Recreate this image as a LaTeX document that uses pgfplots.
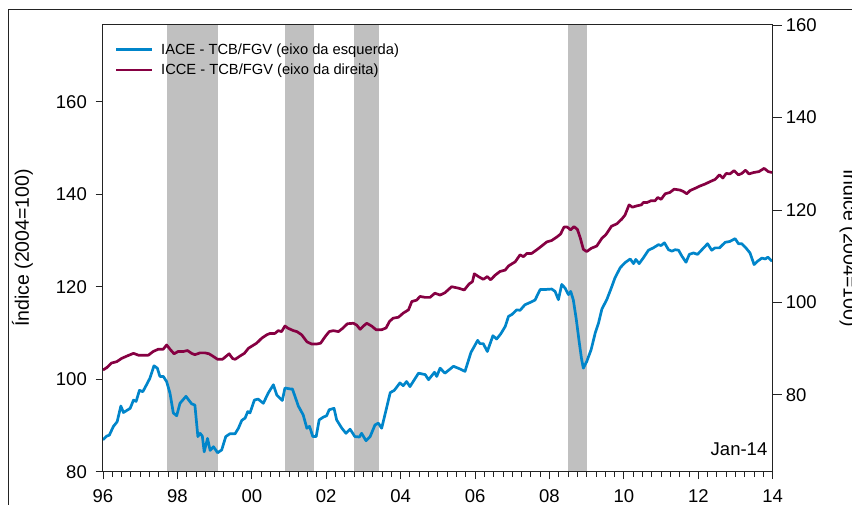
\documentclass[border=0pt]{standalone}
\usepackage{pgfplots}
\pgfplotsset{compat=1.18}
\usepackage{fontspec}
\setmainfont{Liberation Sans}
\definecolor{iace}{RGB}{0,133,202}
\definecolor{icce}{RGB}{134,0,66}
\definecolor{band}{RGB}{192,192,192}
\definecolor{frm}{RGB}{35,35,35}
\newcommand{\tickfont}{\fontsize{18.5}{20}\selectfont}
\newcommand{\legfont}{\fontsize{14.7}{16}\selectfont}
\newcommand{\labfont}{\fontsize{19.5}{21}\selectfont}
\begin{document}
\begin{tikzpicture}[x=1pt,y=1pt]
\path[use as bounding box] (0,0) rectangle (852,504);
\clip (0,0) rectangle (852,504);
\draw[line width=1pt, frm] (8,494) rectangle (900,-60);
\begin{axis}[
  at={(103pt,32.3pt)}, anchor=south west,
  scale only axis, width=669.7pt, height=446.7pt,
  xmin=1996, xmax=2014, ymin=80, ymax=176.6,
  axis on top,
  axis line style={line width=1pt, frm},
  tick align=outside,
  major tick length=7.5pt, minor tick length=5pt,
  tick style={line width=0.9pt, frm},
  xtick={1996,1998,...,2014},
  xticklabels={96,98,00,02,04,06,08,10,12,14},
  minor x tick num=7,
  xtick pos=bottom,
  ytick={80,100,...,160},
  ytick pos=left,
  /pgf/number format/assume math mode=true,
  ticklabel style={font=\tickfont, inner sep=0pt},
  xticklabel shift=10pt,
  yticklabel shift=8.5pt,
  legend cell align=left,
  legend image code/.code={\draw[#1] (0pt,0pt) -- (36pt,0pt);},
  legend style={draw=none, fill=none, inner sep=0pt, outer sep=0pt,
    nodes={inner sep=0pt, font=\legfont}, column sep=7.5pt, row sep=8pt,
    at={(0.0179,0.958)}, anchor=north west},
]
\addplot[fill=band, draw=none, forget plot] coordinates {(1997.73,200) (1999.08,200)} \closedcycle;
\addplot[fill=band, draw=none, forget plot] coordinates {(2000.90,200) (2001.68,200)} \closedcycle;
\addplot[fill=band, draw=none, forget plot] coordinates {(2002.74,200) (2003.43,200)} \closedcycle;
\addplot[fill=band, draw=none, forget plot] coordinates {(2008.50,200) (2009.02,200)} \closedcycle;
\addplot[iace, line width=2.7pt, line join=round] coordinates {
(1996.00,86.9) (1996.10,87.7) (1996.17,87.9) (1996.28,89.8) (1996.38,90.8) (1996.48,94.2) (1996.55,92.8) (1996.73,93.7) (1996.82,95.5) (1996.89,95.2)
(1996.98,97.6) (1997.07,97.3) (1997.17,98.8) (1997.26,100.2) (1997.37,102.9) (1997.46,102.4) (1997.53,100.6) (1997.62,100.6) (1997.71,99.5) (1997.80,97.0)
(1997.89,92.7) (1997.98,92.1) (1998.07,94.8) (1998.23,96.3) (1998.38,94.7) (1998.47,94.4) (1998.55,87.6) (1998.61,88.3) (1998.67,87.7) (1998.72,84.3)
(1998.81,87.2) (1998.88,84.6) (1998.97,85.4) (1999.08,84.1) (1999.19,84.7) (1999.30,87.6) (1999.41,88.2) (1999.55,88.2) (1999.64,89.4) (1999.73,91.1)
(1999.82,91.6) (1999.89,93.0) (1999.95,92.7) (2000.07,95.5) (2000.17,95.7) (2000.31,94.8) (2000.44,97.0) (2000.58,98.8) (2000.67,96.6) (2000.82,95.4)
(2000.89,98.1) (2001.03,97.9) (2001.09,97.9) (2001.16,96.3) (2001.25,94.2) (2001.38,92.3) (2001.48,89.4) (2001.55,89.8) (2001.64,87.6) (2001.73,87.6)
(2001.81,91.2) (2001.92,91.8) (2002.01,92.1) (2002.08,93.4) (2002.21,93.7) (2002.28,91.2) (2002.42,89.4) (2002.53,88.3) (2002.64,89.2) (2002.77,87.6)
(2002.89,87.5) (2002.95,88.3) (2003.07,86.7) (2003.18,87.6) (2003.31,90.1) (2003.40,90.5) (2003.49,89.4) (2003.61,93.4) (2003.72,97.1) (2003.83,97.6)
(2003.98,99.2) (2004.07,98.6) (2004.16,99.5) (2004.25,98.4) (2004.48,101.3) (2004.66,101.0) (2004.75,99.9) (2004.91,101.5) (2004.97,100.6) (2005.06,102.4)
(2005.19,101.3) (2005.42,102.8) (2005.60,102.2) (2005.73,101.7) (2005.89,105.8) (2006.07,108.4) (2006.13,107.7) (2006.22,107.7) (2006.33,106.0) (2006.48,109.4)
(2006.58,108.7) (2006.69,109.8) (2006.81,111.4) (2006.90,113.6) (2006.99,114.0) (2007.12,115.0) (2007.21,114.9) (2007.34,116.1) (2007.48,116.6) (2007.61,117.1)
(2007.75,119.4) (2007.88,119.4) (2008.06,119.5) (2008.15,119.0) (2008.24,117.2) (2008.33,120.5) (2008.42,119.7) (2008.51,118.3) (2008.57,119.0) (2008.64,117.2)
(2008.72,113.0) (2008.80,108.0) (2008.86,104.5) (2008.91,102.4) (2009.00,103.8) (2009.12,106.4) (2009.23,110.0) (2009.32,112.2) (2009.41,115.2) (2009.54,117.2)
(2009.66,119.7) (2009.76,121.9) (2009.90,124.1) (2010.03,125.2) (2010.17,126.0) (2010.26,125.0) (2010.32,125.9) (2010.41,125.0) (2010.52,126.2) (2010.66,127.9)
(2010.79,128.4) (2010.93,129.1) (2011.00,128.9) (2011.09,129.5) (2011.20,128.0) (2011.29,127.7) (2011.38,128.0) (2011.47,127.9) (2011.56,126.6) (2011.67,125.3)
(2011.76,127.0) (2011.87,127.3) (2011.98,127.0) (2012.12,128.2) (2012.25,129.3) (2012.36,127.9) (2012.45,128.4) (2012.57,128.4) (2012.72,129.6) (2012.85,129.8)
(2012.99,130.4) (2013.08,129.3) (2013.17,129.3) (2013.28,128.4) (2013.39,127.3) (2013.50,124.8) (2013.59,125.5) (2013.71,126.2) (2013.80,126.0) (2013.87,126.4)
(2013.98,125.5)
};
\addlegendentry{IACE - TCB/FGV (eixo da esquerda)}
\addlegendimage{icce, line width=2.7pt}
\addlegendentry{ICCE - TCB/FGV (eixo da direita)}
\end{axis}
\begin{axis}[
  at={(103pt,32.3pt)}, anchor=south west,
  scale only axis, width=669.7pt, height=446.7pt,
  xmin=1996, xmax=2014, ymin=63.4, ymax=160,
  axis x line=none,
  axis y line*=right,
  axis line style={line width=1pt, frm, -},
  tick align=outside,
  major tick length=9pt,
  tick style={line width=0.9pt, frm},
  ytick={80,100,...,160},
  /pgf/number format/assume math mode=true,
  yticklabel style={font=\tickfont, inner sep=0pt},
  yticklabel shift=4pt,
]
\addplot[icce, line width=2.7pt, line join=round] coordinates {
(1996.00,85.4) (1996.10,85.9) (1996.23,86.9) (1996.37,87.2) (1996.50,87.9) (1996.64,88.4) (1996.82,89.0) (1996.95,88.6) (1997.08,88.6) (1997.22,88.6)
(1997.35,89.4) (1997.49,89.9) (1997.62,89.9) (1997.71,90.8) (1997.80,89.9) (1997.91,88.9) (1998.02,89.4) (1998.16,89.4) (1998.27,89.6) (1998.38,89.0)
(1998.47,88.7) (1998.61,89.1) (1998.74,89.1) (1998.85,88.9) (1998.97,88.3) (1999.08,87.7) (1999.21,87.7) (1999.30,88.3) (1999.39,88.9) (1999.48,87.9)
(1999.55,87.7) (1999.68,88.4) (1999.80,89.0) (1999.91,90.1) (2000.01,90.6) (2000.13,91.2) (2000.27,92.3) (2000.40,93.0) (2000.49,93.3) (2000.62,93.3)
(2000.71,93.9) (2000.80,93.7) (2000.89,94.9) (2000.98,94.4) (2001.12,93.9) (2001.21,93.7) (2001.34,93.0) (2001.48,91.5) (2001.61,91.0) (2001.74,91.0)
(2001.85,91.2) (2001.97,92.6) (2002.08,93.7) (2002.19,93.9) (2002.33,93.7) (2002.44,94.4) (2002.57,95.4) (2002.73,95.5) (2002.82,95.1) (2002.91,94.2)
(2003.00,94.9) (2003.09,95.5) (2003.22,94.9) (2003.34,94.1) (2003.49,94.1) (2003.61,94.5) (2003.70,95.9) (2003.80,96.6) (2003.94,96.8) (2004.07,97.7)
(2004.21,98.4) (2004.30,100.2) (2004.43,100.5) (2004.52,101.3) (2004.66,101.1) (2004.79,101.1) (2004.92,102.0) (2005.06,101.6) (2005.19,102.1) (2005.37,103.4)
(2005.55,103.1) (2005.71,102.7) (2005.84,104.0) (2005.93,104.5) (2005.98,106.2) (2006.09,105.6) (2006.22,105.0) (2006.33,105.6) (2006.42,104.9) (2006.54,105.9)
(2006.67,106.7) (2006.81,107.0) (2006.90,107.9) (2007.08,108.8) (2007.21,110.3) (2007.30,109.9) (2007.39,110.6) (2007.52,110.6) (2007.66,111.4) (2007.79,112.2)
(2007.93,113.1) (2008.06,113.4) (2008.19,114.1) (2008.30,114.8) (2008.39,116.3) (2008.48,116.3) (2008.57,115.7) (2008.66,116.4) (2008.75,115.8) (2008.83,113.9)
(2008.91,111.5) (2009.00,111.0) (2009.12,111.7) (2009.27,112.2) (2009.41,113.9) (2009.51,114.6) (2009.67,116.5) (2009.81,117.0) (2009.94,118.0) (2010.03,118.9)
(2010.14,121.1) (2010.23,120.6) (2010.35,120.9) (2010.47,121.1) (2010.52,121.6) (2010.62,121.6) (2010.73,122.0) (2010.84,122.0) (2010.91,122.7) (2011.00,122.3)
(2011.11,123.5) (2011.24,123.8) (2011.35,124.5) (2011.51,124.3) (2011.60,124.0) (2011.69,123.5) (2011.78,124.2) (2011.92,124.7) (2012.05,125.2) (2012.18,125.6)
(2012.31,126.1) (2012.45,126.6) (2012.57,127.6) (2012.66,126.9) (2012.75,127.9) (2012.85,127.8) (2012.96,128.5) (2013.08,127.6) (2013.17,127.9) (2013.27,128.6)
(2013.36,127.8) (2013.49,128.1) (2013.63,128.3) (2013.77,129.0) (2013.88,128.3) (2013.98,128.1)
};
\end{axis}
\node[rotate=90, font=\labfont] at (22.5,256) {Índice (2004=100)};
\node[rotate=-90, font=\labfont] at (850,256) {Índice (2004=100)};
\node[anchor=base east, inner sep=0pt, font=\tickfont] at (767.5,49) {Jan-14};
\end{tikzpicture}
\end{document}
